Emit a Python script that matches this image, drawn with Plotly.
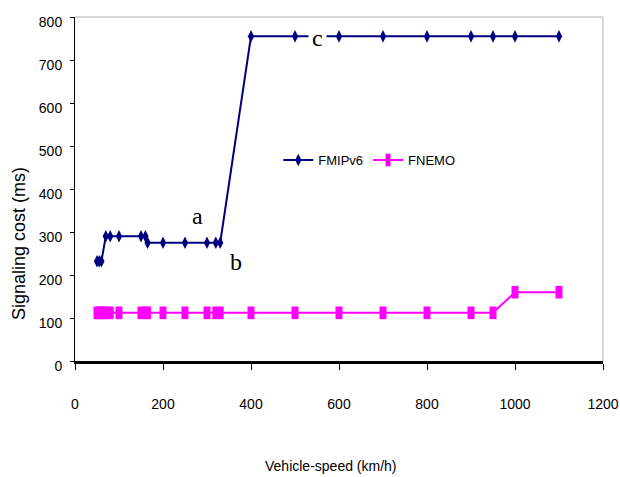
import plotly.graph_objects as go

# Data
speed_fmipv6 = [50, 55, 60, 70, 80, 100, 150, 160, 165, 200, 250, 300, 320, 330,
                400, 500, 600, 700, 800, 900, 950, 1000, 1100]
cost_fmipv6 = [232, 232, 232, 290, 290, 290, 290, 290, 275, 275, 275, 275, 275, 275,
               755, 755, 755, 755, 755, 755, 755, 755, 755]

speed_fnemo = [50, 55, 60, 65, 70, 80, 100, 150, 160, 165, 200, 250, 300, 320, 330,
               400, 500, 600, 700, 800, 900, 950, 1000, 1100]
cost_fnemo = [112, 112, 112, 112, 112, 112, 112, 112, 112, 112, 112, 112, 112, 112, 112,
              112, 112, 112, 112, 112, 112, 112, 160, 160]

x_ticks = [0, 200, 400, 600, 800, 1000, 1200]
y_ticks = [0, 100, 200, 300, 400, 500, 600, 700, 800]

NARROW = "Liberation Sans Narrow, Arial Narrow, Liberation Sans, Arial, sans-serif"
SANS = "Liberation Sans, Arial, sans-serif"
SERIF = "Liberation Serif, Times New Roman, serif"

fig = go.Figure()
fig.add_trace(go.Scatter(
    x=speed_fmipv6, y=cost_fmipv6, name="FMIPv6", mode="lines+markers",
    line=dict(color="#000080", width=2),
    marker=dict(symbol="diamond-tall", size=9, color="#000080"),
))
fig.add_trace(go.Scatter(
    x=speed_fnemo, y=cost_fnemo, name="FNEMO", mode="lines+markers",
    line=dict(color="#FF00FF", width=2),
    marker=dict(symbol="line-ns-open", size=9, color="#FF00FF",
                line=dict(width=7, color="#FF00FF")),
))

fig.update_layout(
    width=620, height=477,
    margin=dict(l=75, r=17, t=17, b=116, autoexpand=False),
    paper_bgcolor="white", plot_bgcolor="white",
    font=dict(family=NARROW, size=14, color="black"),
    showlegend=True,
    legend=dict(orientation="h", x=0.385, y=0.584, xanchor="left", yanchor="middle",
                bgcolor="rgba(0,0,0,0)", font=dict(family=NARROW, size=13),
                itemwidth=30),
    xaxis=dict(range=[0, 1200], tickvals=x_ticks, ticktext=[str(v) for v in x_ticks],
               showgrid=False, zeroline=False, showline=True, linecolor="black",
               linewidth=2.5, ticks="outside", ticklen=6, tickcolor="black",
               tickwidth=1, ticklabelstandoff=22, automargin=False,
               ticklabeloverflow="allow",
               tickfont=dict(family=NARROW, size=14)),
    yaxis=dict(range=[0, 800], tickvals=y_ticks, ticktext=[str(v) for v in y_ticks],
               showgrid=False, zeroline=False, showline=True, linecolor="black",
               linewidth=1, ticks="outside", ticklen=4, tickcolor="black",
               tickwidth=1, ticklabelstandoff=5, ticklabelshift=5, automargin=False,
               ticklabeloverflow="allow",
               tickfont=dict(family=NARROW, size=14)),
    shapes=[
        dict(type="line", xref="paper", yref="paper", x0=0, x1=1, y0=1, y1=1,
             line=dict(color="#B0B0B0", width=1)),
        dict(type="line", xref="paper", yref="paper", x0=1, x1=1, y0=0, y1=1,
             line=dict(color="#B0B0B0", width=1)),
    ],
    annotations=[
        dict(text="Vehicle-speed (km/h)", xref="paper", yref="paper",
             x=0.485, y=-0.305, showarrow=False, xanchor="center", yanchor="middle",
             font=dict(family=NARROW, size=14)),
        dict(text="Signaling cost (ms)", xref="paper", yref="paper",
             x=-0.106, y=0.34, showarrow=False, textangle=-90,
             xanchor="center", yanchor="middle",
             font=dict(family=SANS, size=18)),
        dict(text="a", x=279, y=338, showarrow=False,
             font=dict(family=SERIF, size=24)),
        dict(text="b", x=366, y=230, showarrow=False,
             font=dict(family=SERIF, size=24)),
        dict(text="c", x=552, y=752, showarrow=False, bgcolor="white",
             borderpad=3, font=dict(family=SERIF, size=24)),
    ],
)

fig.write_html(
    "out.html",
    config={"displayModeBar": False},
    post_script="document.body.style.margin='0';document.body.style.overflow='hidden';",
)
